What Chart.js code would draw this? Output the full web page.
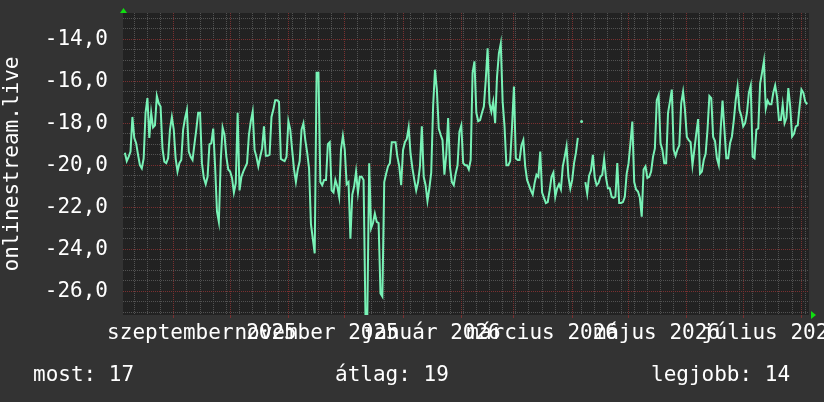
<!DOCTYPE html>
<html>
<head>
<meta charset="utf-8">
<script src="https://cdn.jsdelivr.net/npm/chart.js@4.4.0/dist/chart.umd.min.js"></script>
<style>
  html, body { margin: 0; padding: 0; background: #333333; }
  #wrap { width: 824px; height: 402px; }
</style>
</head>
<body>
<div id="wrap"><canvas id="canvas" width="824" height="402"></canvas></div>
<script>
// one value per day, starting 2025-08-05 (null = no data)
var startDate = '2025-08-05';
var values = [
  null, -19.4, -19.8, -19.6, -19.35, -17.7, -18.7, -18.95, -19.5, -20.0,
  -20.15, -19.67, -17.5, -16.8, -18.7, -17.5, -18.2, -18.1, -16.7, -17.05,
  -17.2, -19.2, -19.83, -19.9, -19.67, -18.3, -17.7, -18.3, -19.67, -20.3,
  -19.9, -19.75, -18.3, -17.76, -17.37, -19.35, -19.6, -19.75, -19.0, -18.3,
  -17.5, -17.5, -19.9, -20.6, -20.9, -20.55, -19.0, -18.95, -18.25, -20.05,
  -22.2, -22.7, -19.8, -18.2, -18.55, -19.6, -20.2, -20.3, -20.6, -21.3,
  -20.85, -17.5, -21.2, -20.55, -20.3, -20.1, -19.9, -18.55, -17.9, -17.45,
  -19.27, -19.6, -20.05, -19.6, -19.2, -18.15, -19.55, -19.55, -19.5, -17.7,
  -17.35, -16.9, -16.9, -16.97, -19.7, -19.75, -19.8, -19.6, -17.9, -18.3,
  -19.27, -20.2, -20.8, -20.2, -19.8, -18.3, -18.0, -18.8, -19.4, -20.15,
  -22.8, -23.5, -24.2, -15.6, -15.6, -20.8, -20.95, -20.7, -20.7, -19.0,
  -18.9, -21.2, -21.3, -20.7, -21.0, -21.5, -19.25, -18.6, -19.27, -20.9,
  -20.8, -23.5, -21.4, -21.0, -20.3, -21.3, -20.55, -20.55, -20.7, -27.1,
  -27.1, -19.9, -23.0, -22.75, -22.3, -22.7, -22.75, -26.1, -26.25, -20.8,
  -20.4, -20.05, -19.9, -18.9, -18.9, -18.9, -19.6, -20.05, -20.95, -19.27,
  -18.9, -18.75, -18.2, -19.45, -20.15, -20.7, -21.2, -20.8, -20.05, -18.15,
  -20.55, -20.95, -21.7, -21.1, -20.35, -17.2, -15.45, -16.4, -18.25, -18.55,
  -18.8, -20.45, -19.5, -17.75, -20.1, -20.8, -20.95, -20.4, -20.0, -18.4,
  -18.1, -19.9, -20.0, -20.0, -20.2, -19.75, -15.6, -15.05, -17.5, -17.9,
  -17.85, -17.5, -17.2, -15.95, -14.43, -17.05, -17.45, -16.97, -18.0, -15.8,
  -14.67, -14.2, -16.97, -18.15, -20.0, -20.0, -19.8, -18.15, -16.25, -19.67,
  -19.75, -19.75, -19.05, -18.8, -20.05, -20.7, -20.95, -21.2, -21.4, -20.85,
  -20.45, -20.55, -19.35, -21.3, -21.55, -21.8, -21.75, -21.2, -20.55, -20.35,
  -21.5, -21.1, -20.9, -21.15, -20.05, -19.6, -19.1, -20.55, -21.1, -20.7,
  -19.9, -19.4, -18.7, null, -17.92, null, -20.8, -21.35, -20.5, -20.25,
  -19.5, -20.6, -20.95, -20.85, -20.55, -20.45, -19.7, -20.6, -21.1, -21.1,
  -21.5, -21.55, -21.5, -19.9, -21.8, -21.8, -21.75, -21.5, -20.4, -19.9,
  -18.95, -17.92, -20.8, -21.15, -21.25, -21.55, -22.45, -20.2, -20.05, -20.6,
  -20.55, -20.3, -19.6, -19.2, -16.9, -16.65, -18.95, -19.27, -19.9, -19.9,
  -17.5, -16.97, -16.4, -19.27, -19.55, -19.25, -19.05, -17.05, -16.5, -17.35,
  -18.65, -18.8, -18.9, -20.0, -19.27, -18.5, -17.8, -20.4, -20.3, -19.75,
  -19.45, -18.3, -16.7, -16.8, -18.65, -18.85, -19.67, -20.0, -18.3, -16.92,
  -18.3, -19.67, -19.67, -18.95, -18.63, -17.85, -16.9, -16.25, -17.37, -17.65,
  -18.15, -18.0, -17.5, -16.55, -16.2, -19.6, -19.67, -18.3, -18.25, -16.1,
  -15.6, -15.05, -17.3, -16.92, -17.1, -17.1, -16.55, -16.2, -16.75, -17.85,
  -17.85, -17.1, -18.0, -17.75, -16.33, -17.2, -18.63, -18.5, -18.15, -18.1,
  -17.2, -16.4, -16.55, -16.97, -17.1, null
];

var xLabels = ['szeptember 2025', 'november 2025', 'január 2026', 'március 2026', 'május 2026', 'július 2026'];
var xLabelDates = ['2025-09-16', '2025-11-16', '2026-01-16', '2026-03-16', '2026-05-16', '2026-07-16'];
var monthStarts = ['2025-09-01', '2025-10-01', '2025-11-01', '2025-12-01', '2026-01-01', '2026-02-01',
                   '2026-03-01', '2026-04-01', '2026-05-01', '2026-06-01', '2026-07-01', '2026-08-01'];
var firstMonday = '2025-08-11';
var yTicks = [-26, -24, -22, -20, -18, -16, -14];
var yTitle = 'onlinestream.live';
var legendLabels = ['most', 'átlag', 'legjobb'];
var legendValues = [17, 19, 14];

var FONT = "'DejaVu Sans Mono', monospace";
var LINE = '#78f2b6';
var MAJOR = '#7a3030';
var MINOR = '#525252';
var ARROW = '#11dd11';
var YMIN = -27.13, YMAX = -12.75;
var XMIN = 0, XMAX = 365;

function dayOf(s) {
  var p = s.split('-'), q = startDate.split('-');
  return (Date.UTC(+p[0], p[1] - 1, +p[2]) - Date.UTC(+q[0], q[1] - 1, +q[2])) / 86400000;
}

var labelDays = xLabelDates.map(dayOf);
var monthDays = monthStarts.map(dayOf);
var weekDays = [];
for (var w = dayOf(firstMonday); w < XMAX; w += 7) {
  if (monthDays.indexOf(w) < 0) weekDays.push(w);
}
var minorY = [];
for (var m = -27; m <= -13; m += 0.5) {
  if (yTicks.indexOf(m) < 0) minorY.push(m);
}

function setTicks(list) {
  return function(scale) { scale.ticks = list.map(function(v) { return { value: v }; }); };
}
// fixed box size, and no extra padding asked by the tick labels
function fitTo(prop, size) {
  return function(s) {
    s[prop] = size;
    s.paddingLeft = s.paddingRight = s.paddingTop = s.paddingBottom = 0;
  };
}

var points = values.map(function(v, i) { return { x: i, y: v }; });

var rrdPlugin = {
  id: 'rrd',
  beforeDraw: function(chart) {
    var c = chart.ctx, a = chart.chartArea;
    c.save();
    c.fillStyle = '#333333';
    c.fillRect(0, 0, chart.width, chart.height);
    c.fillStyle = '#222222';
    c.fillRect(a.left, a.top, a.right - a.left, a.bottom - a.top);
    c.restore();
  },
  afterDraw: function(chart) {
    var c = chart.ctx, a = chart.chartArea;
    c.save();
    c.fillStyle = ARROW;
    c.beginPath();
    c.moveTo(a.left - 3, a.top);
    c.lineTo(a.left + 4, a.top);
    c.lineTo(a.left + 0.5, a.top - 5);
    c.closePath();
    c.fill();
    c.beginPath();
    c.moveTo(a.right + 2, a.bottom - 4);
    c.lineTo(a.right + 2, a.bottom + 4);
    c.lineTo(a.right + 7, a.bottom);
    c.closePath();
    c.fill();

    c.font = '21px ' + FONT;
    c.fillStyle = '#ffffff';
    c.textBaseline = 'alphabetic';
    var xs = [33, 335, 651];
    for (var i = 0; i < legendLabels.length; i++) {
      c.fillText(legendLabels[i] + ': ' + legendValues[i], xs[i], 381);
    }
    c.restore();
  }
};

var ctx = document.getElementById('canvas').getContext('2d');
var myChart = new Chart(ctx, {
  type: 'line',
  data: {
    datasets: [{
      data: points,
      borderColor: LINE,
      backgroundColor: LINE,
      borderWidth: 2,
      tension: 0,
      spanGaps: false,
      pointRadius: function(c) {
        var i = c.dataIndex;
        var lone = values[i] !== null && values[i - 1] == null && values[i + 1] == null;
        return lone ? 1.5 : 0;
      },
      pointBorderWidth: 0,
      pointHoverRadius: 0
    }]
  },
  options: {
    responsive: false,
    animation: false,
    events: [],
    layout: { autoPadding: false, padding: { top: 13, right: 15, left: 0, bottom: 0 } },
    plugins: { legend: { display: false }, tooltip: { enabled: false } },
    scales: {
      xWeek: {
        type: 'linear', position: 'bottom', min: XMIN, max: XMAX,
        afterBuildTicks: setTicks(weekDays),
        afterFit: fitTo('height', 0),
        grid: { color: MINOR, drawTicks: false, z: -2 },
        border: { display: false, dash: [1, 1] },
        ticks: { display: false }
      },
      xMonth: {
        type: 'linear', position: 'bottom', min: XMIN, max: XMAX,
        afterBuildTicks: setTicks(monthDays),
        afterFit: fitTo('height', 0),
        grid: { color: MAJOR, drawTicks: true, tickLength: 3, z: -1 },
        border: { display: false, dash: [1, 1] },
        ticks: { display: false }
      },
      x: {
        type: 'linear', position: 'bottom', min: XMIN, max: XMAX,
        afterBuildTicks: setTicks(labelDays),
        afterFit: fitTo('height', 87),
        grid: { display: false },
        border: { display: false },
        ticks: {
          autoSkip: false, maxRotation: 0, minRotation: 0, padding: -2,
          color: '#ffffff', font: { family: FONT, size: 21 },
          callback: function(v, i) { return xLabels[i]; }
        }
      },
      yMinor: {
        type: 'linear', position: 'left', min: YMIN, max: YMAX,
        afterBuildTicks: setTicks(minorY),
        afterFit: fitTo('width', 0),
        grid: { color: MINOR, drawTicks: false, z: -2 },
        border: { display: false, dash: [1, 1] },
        ticks: { display: false }
      },
      y: {
        type: 'linear', position: 'left', min: YMIN, max: YMAX,
        afterBuildTicks: setTicks(yTicks),
        afterFit: fitTo('width', 123),
        grid: { color: MAJOR, drawTicks: false, z: -1 },
        border: { display: false, dash: [1, 1] },
        ticks: {
          padding: 15, color: '#ffffff', font: { family: FONT, size: 21 },
          callback: function(v) { return v.toFixed(1).replace('.', ','); }
        },
        title: {
          display: true, text: yTitle, color: '#ffffff',
          font: { family: FONT, size: 21 }, padding: 0
        }
      }
    }
  },
  plugins: [rrdPlugin]
});
</script>
</body>
</html>
